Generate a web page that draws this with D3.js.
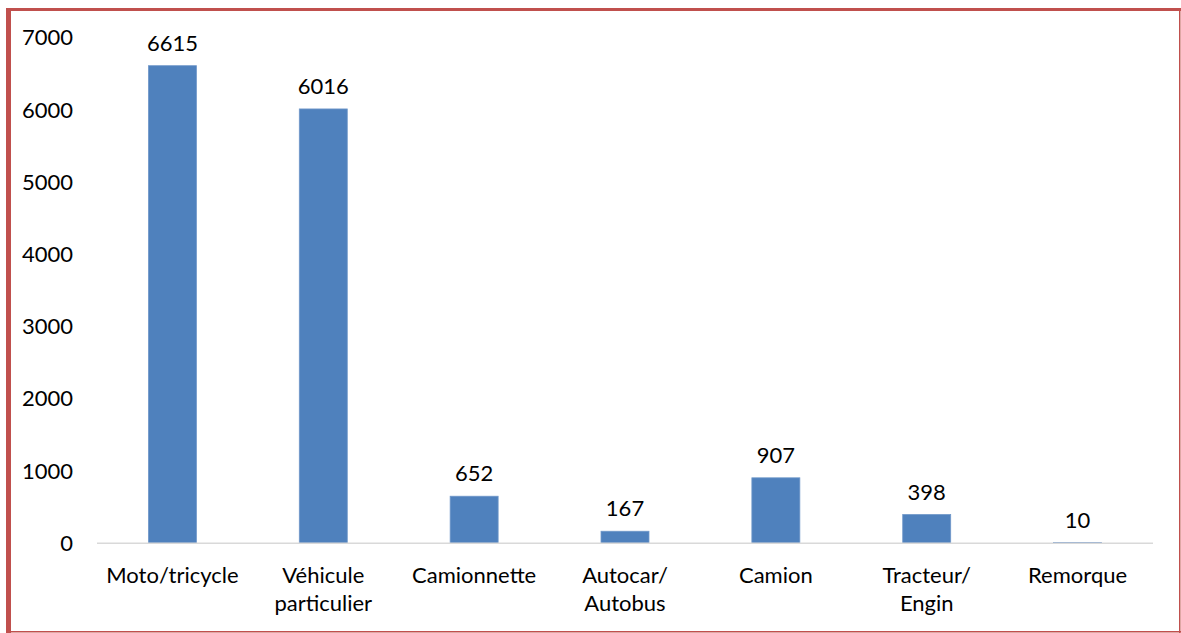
<!DOCTYPE html>
<html>
<head>
<meta charset="utf-8">
<script src="https://cdn.jsdelivr.net/npm/d3@7"></script>
<style>
  body { margin: 0; background: #fff; }
  svg text { font-family: "Lato", "Open Sans", sans-serif; fill: #000; }
</style>
</head>
<body>
<svg id="chart" width="1181" height="633"></svg>
<script>
// categories and values
const categories = [
  ["Moto/tricycle"],
  ["Véhicule", "particulier"],
  ["Camionnette"],
  ["Autocar/", "Autobus"],
  ["Camion"],
  ["Tracteur/", "Engin"],
  ["Remorque"]
];
const values = [6615, 6016, 652, 167, 907, 398, 10];
const yTicks = [0, 1000, 2000, 3000, 4000, 5000, 6000, 7000];

const svg = d3.select("#chart");
const fontSize = 22;

// frame
svg.append("rect").attr("x", 6).attr("y", 8).attr("width", 5).attr("height", 625).attr("fill", "#c0504d");
svg.append("rect").attr("x", 6).attr("y", 8).attr("width", 1175).attr("height", 3).attr("fill", "#c0504d");
svg.append("rect").attr("x", 1179).attr("y", 8).attr("width", 1.5).attr("height", 625).attr("fill", "#c0504d");
svg.append("rect").attr("x", 6).attr("y", 631).attr("width", 1175).attr("height", 1.5).attr("fill", "#c0504d");

const x = d3.scaleBand()
    .domain(d3.range(categories.length))
    .range([97, 1153])
    .paddingInner(0.682)
    .paddingOuter(0.341);

const y = d3.scaleLinear()
    .domain([0, 7000])
    .range([543.3, 37.9]);

// y axis labels (no axis line)
const yAxis = svg.append("g")
    .attr("transform", "translate(73,0)")
    .call(d3.axisLeft(y).tickValues(yTicks).tickFormat(d3.format("d")).tickSize(0).tickPadding(0));
yAxis.select(".domain").remove();
yAxis.selectAll("text")
    .attr("font-family", "Lato, 'Open Sans', sans-serif")
    .attr("font-size", fontSize)
    .attr("fill", "#000");

// bars
svg.selectAll("rect.bar")
    .data(values)
    .enter()
    .append("rect")
        .attr("class", "bar")
        .attr("x", (d, i) => x(i))
        .attr("y", d => y(d))
        .attr("width", x.bandwidth())
        .attr("height", d => y(0) - y(d))
        .attr("fill", "#4f81bd")
        .attr("stroke", "#6f97c9")
        .attr("stroke-width", 0.8);

// baseline
svg.append("line")
    .attr("x1", 97).attr("x2", 1153)
    .attr("y1", y(0)).attr("y2", y(0))
    .attr("stroke", "#d9d9d9")
    .attr("stroke-width", 1.5);

// value labels
svg.selectAll("text.val")
    .data(values)
    .enter()
    .append("text")
        .attr("class", "val")
        .attr("x", (d, i) => x(i) + x.bandwidth() / 2)
        .attr("y", d => y(d) - 15)
        .attr("text-anchor", "middle")
        .attr("font-size", fontSize)
        .text(d => d);

// category labels
const cat = svg.selectAll("text.cat")
    .data(categories)
    .enter()
    .append("text")
        .attr("class", "cat")
        .attr("text-anchor", "middle")
        .attr("font-size", fontSize)
        .attr("x", (d, i) => x(i) + x.bandwidth() / 2)
        .attr("y", 583);
cat.selectAll("tspan")
    .data(d => d)
    .enter()
    .append("tspan")
        .attr("x", function() { return this.parentNode.getAttribute("x"); })
        .attr("dy", (d, i) => i === 0 ? 0 : 28)
        .text(d => d);
</script>
</body>
</html>
